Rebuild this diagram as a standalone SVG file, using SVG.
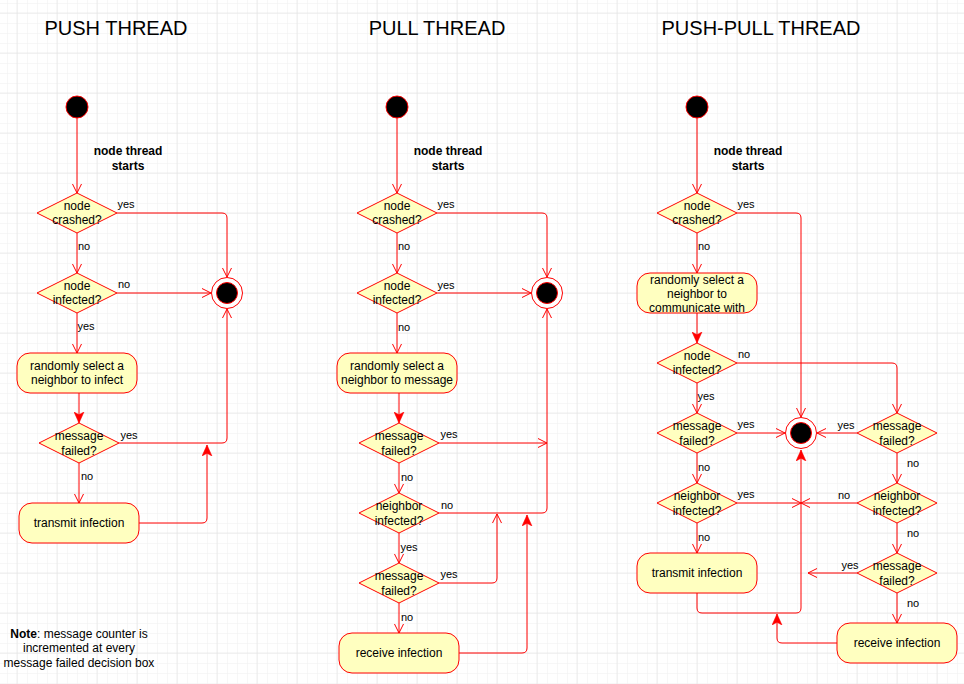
<svg xmlns="http://www.w3.org/2000/svg" width="964" height="684" viewBox="0 0 964 684">
<defs>
<pattern id="minor" x="17" y="13" width="10" height="10" patternUnits="userSpaceOnUse"><path d="M0,0 H10 M0,0 V10" fill="none" stroke="#f0f0f0" stroke-width="1"/></pattern>
<pattern id="major" x="16.5" y="12.5" width="40" height="40" patternUnits="userSpaceOnUse"><path d="M0,0 H40 M0,0 V40" fill="none" stroke="#e0e0e0" stroke-width="1"/></pattern>
<marker id="open" viewBox="0 0 10 10" refX="10" refY="5" markerWidth="10" markerHeight="10" markerUnits="userSpaceOnUse" orient="auto"><path d="M1,0.5 L10,5 L1,9.5" fill="none" stroke="#ff0000" stroke-width="1"/></marker>
<marker id="block" viewBox="0 0 10 10" refX="10" refY="5" markerWidth="11" markerHeight="11" markerUnits="userSpaceOnUse" orient="auto"><path d="M0,0.5 L10,5 L0,9.5 L2.5,5 z" fill="#ff0000" stroke="#ff0000" stroke-width="0.5"/></marker>
</defs>
<style>
.t{font-family:"Liberation Sans",Arial,Helvetica,sans-serif;font-size:12px;fill:#000;text-anchor:middle}
.b{font-weight:bold}
.l{font-family:"Liberation Sans",Arial,Helvetica,sans-serif;font-size:11px;fill:#000;text-anchor:middle}
.title{font-family:"Liberation Sans",Arial,Helvetica,sans-serif;font-size:20px;fill:#000;text-anchor:middle}
.d{fill:#ffffc0;stroke:#ff0000;stroke-width:1}
.box{fill:#ffffc0;stroke:#ff0000;stroke-width:1}
.start{fill:#000;stroke:#ff0000;stroke-width:1}
.endo{fill:#fff;stroke:#ff0000;stroke-width:1}
.c path{fill:none;stroke:#ff0000;stroke-width:1}
.o{marker-end:url(#open)}
.f{marker-end:url(#block)}
</style>
<rect width="964" height="684" fill="#ffffff"/>
<rect width="964" height="684" fill="url(#minor)"/>
<rect width="964" height="684" fill="url(#major)"/>

<text class="title" x="116" y="35">PUSH THREAD</text>
<text class="title" x="437" y="35">PULL THREAD</text>
<text class="title" x="761" y="35">PUSH-PULL THREAD</text>

<g id="connectors" class="c">
<!-- push -->
<path class="o" d="M77,118 V193"/>
<path class="o" d="M117,213 H222 Q227,213 227,218 V277"/>
<path class="o" d="M77,233 V273"/>
<path class="o" d="M117,293 H211"/>
<path class="o" d="M77,313 V353"/>
<path class="f" d="M79,393 V423"/>
<path class="o" d="M119,443 H222 Q227,443 227,438 V309"/>
<path class="o" d="M79,463 V503"/>
<path class="f" d="M139,523 H202 Q207,523 207,518 V445"/>
<!-- pull -->
<path class="o" d="M397,118 V193"/>
<path class="o" d="M437,213 H542 Q547,213 547,218 V277"/>
<path class="o" d="M397,233 V273"/>
<path class="o" d="M437,293 H531"/>
<path class="o" d="M397,313 V353"/>
<path class="f" d="M399,393 V423"/>
<path class="o" d="M439,443 H547"/>
<path class="o" d="M399,463 V493"/>
<path class="o" d="M439,513 H542 Q547,513 547,508 V309"/>
<path class="o" d="M399,533 V563"/>
<path class="o" d="M439,583 H492 Q497,583 497,578 V514"/>
<path class="o" d="M399,603 V633"/>
<path class="f" d="M459,653 H522 Q527,653 527,648 V515"/>
<!-- push-pull -->
<path class="o" d="M697,118 V193"/>
<path class="o" d="M737,213 H796 Q801,213 801,218 V417"/>
<path class="o" d="M697,233 V273"/>
<path class="f" d="M697,313 V343"/>
<path class="o" d="M737,363 H892 Q897,363 897,368 V413"/>
<path class="o" d="M697,383 V413"/>
<path class="o" d="M737,433 H785"/>
<path class="o" d="M697,453 V483"/>
<path class="o" d="M737,503 H801"/>
<path class="o" d="M697,523 V553"/>
<path class="f" d="M697,593 V608 Q697,613 702,613 H796 Q801,613 801,608 V450"/>
<path class="o" d="M857,433 H817"/>
<path class="o" d="M897,453 V483"/>
<path class="o" d="M857,503 H801"/>
<path class="o" d="M897,523 V553"/>
<path class="o" d="M857,573 H808"/>
<path class="o" d="M897,593 V623"/>
<path class="f" d="M837,643 H782 Q777,643 777,638 V614"/>
</g>

<g id="labels">
<text class="t b" x="128" y="155">node thread</text><text class="t b" x="128" y="170">starts</text>
<text class="t b" x="448" y="155">node thread</text><text class="t b" x="448" y="170">starts</text>
<text class="t b" x="748" y="155">node thread</text><text class="t b" x="748" y="170">starts</text>
<text class="l" x="126" y="208">yes</text><text class="l" x="84" y="250">no</text><text class="l" x="124" y="288">no</text><text class="l" x="86" y="330">yes</text><text class="l" x="129" y="439">yes</text><text class="l" x="87" y="480">no</text>
<text class="l" x="446" y="208">yes</text><text class="l" x="404" y="250">no</text><text class="l" x="446" y="289">yes</text><text class="l" x="404" y="331">no</text><text class="l" x="449" y="438">yes</text><text class="l" x="407" y="481">no</text><text class="l" x="447" y="509">no</text><text class="l" x="409" y="551">yes</text><text class="l" x="449" y="578">yes</text><text class="l" x="407" y="621">no</text>
<text class="l" x="746" y="208">yes</text><text class="l" x="704" y="250">no</text><text class="l" x="744" y="358">no</text><text class="l" x="706" y="400">yes</text><text class="l" x="746" y="428">yes</text><text class="l" x="704" y="471">no</text><text class="l" x="746" y="498">yes</text><text class="l" x="704" y="541">no</text>
<text class="l" x="846" y="429">yes</text><text class="l" x="913" y="467">no</text><text class="l" x="844" y="499">no</text><text class="l" x="913" y="537">no</text><text class="l" x="850" y="569">yes</text><text class="l" x="913" y="607">no</text>
<text class="t" x="79" y="638"><tspan font-weight="bold">Note</tspan>: message counter is</text>
<text class="t" x="79" y="652">incremented at every</text>
<text class="t" x="79" y="667">message failed decision box</text>
</g>

<!-- PUSH nodes -->
<g id="push-start"><circle class="start" cx="77" cy="107" r="11"/></g>
<g id="push-crashed"><polygon class="d" points="37,213 77,193 117,213 77,233"/><text class="t" x="77" y="210">node</text><text class="t" x="77" y="224">crashed?</text></g>
<g id="push-infected"><polygon class="d" points="37,293 77,273 117,293 77,313"/><text class="t" x="77" y="290">node</text><text class="t" x="77" y="304">infected?</text></g>
<g id="push-end"><circle class="endo" cx="227" cy="293" r="15.5"/><circle class="start" cx="227" cy="293" r="10.5"/></g>
<g id="push-select"><rect class="box" x="17" y="353" width="120" height="40" rx="13"/><text class="t" x="77" y="370">randomly select a</text><text class="t" x="77" y="384">neighbor to infect</text></g>
<g id="push-failed"><polygon class="d" points="39,443 79,423 119,443 79,463"/><text class="t" x="79" y="440">message</text><text class="t" x="79" y="455">failed?</text></g>
<g id="push-transmit"><rect class="box" x="19" y="503" width="120" height="40" rx="13"/><text class="t" x="79" y="527">transmit infection</text></g>

<!-- PULL nodes -->
<g id="pull-start"><circle class="start" cx="397" cy="107" r="11"/></g>
<g id="pull-crashed"><polygon class="d" points="357,213 397,193 437,213 397,233"/><text class="t" x="397" y="210">node</text><text class="t" x="397" y="224">crashed?</text></g>
<g id="pull-infected"><polygon class="d" points="357,293 397,273 437,293 397,313"/><text class="t" x="397" y="290">node</text><text class="t" x="397" y="304">infected?</text></g>
<g id="pull-end"><circle class="endo" cx="547" cy="293" r="15.5"/><circle class="start" cx="547" cy="293" r="10.5"/></g>
<g id="pull-select"><rect class="box" x="337" y="353" width="120" height="40" rx="13"/><text class="t" x="397" y="370">randomly select a</text><text class="t" x="397" y="384">neighbor to message</text></g>
<g id="pull-failed1"><polygon class="d" points="359,443 399,423 439,443 399,463"/><text class="t" x="399" y="440">message</text><text class="t" x="399" y="455">failed?</text></g>
<g id="pull-neighbor"><polygon class="d" points="359,513 399,493 439,513 399,533"/><text class="t" x="399" y="510">neighbor</text><text class="t" x="399" y="525">infected?</text></g>
<g id="pull-failed2"><polygon class="d" points="359,583 399,563 439,583 399,603"/><text class="t" x="399" y="580">message</text><text class="t" x="399" y="595">failed?</text></g>
<g id="pull-receive"><rect class="box" x="339" y="633" width="120" height="40" rx="13"/><text class="t" x="399" y="657">receive infection</text></g>

<!-- PUSH-PULL nodes -->
<g id="pp-start"><circle class="start" cx="697" cy="107" r="11"/></g>
<g id="pp-crashed"><polygon class="d" points="657,213 697,193 737,213 697,233"/><text class="t" x="697" y="210">node</text><text class="t" x="697" y="224">crashed?</text></g>
<g id="pp-select"><rect class="box" x="637" y="273" width="120" height="40" rx="13"/><text class="t" x="697" y="283.5">randomly select a</text><text class="t" x="697" y="297.5">neighbor to</text><text class="t" x="697" y="312">communicate with</text></g>
<g id="pp-infected"><polygon class="d" points="657,363 697,343 737,363 697,383"/><text class="t" x="697" y="360">node</text><text class="t" x="697" y="374">infected?</text></g>
<g id="pp-failed-l"><polygon class="d" points="657,433 697,413 737,433 697,453"/><text class="t" x="697" y="430">message</text><text class="t" x="697" y="445">failed?</text></g>
<g id="pp-neighbor-l"><polygon class="d" points="657,503 697,483 737,503 697,523"/><text class="t" x="697" y="500">neighbor</text><text class="t" x="697" y="515">infected?</text></g>
<g id="pp-transmit"><rect class="box" x="637" y="553" width="120" height="40" rx="13"/><text class="t" x="697" y="577">transmit infection</text></g>
<g id="pp-end"><circle class="endo" cx="801" cy="433" r="15.5"/><circle class="start" cx="801" cy="433" r="10.5"/></g>
<g id="pp-failed-r1"><polygon class="d" points="857,433 897,413 937,433 897,453"/><text class="t" x="897" y="430">message</text><text class="t" x="897" y="445">failed?</text></g>
<g id="pp-neighbor-r"><polygon class="d" points="857,503 897,483 937,503 897,523"/><text class="t" x="897" y="500">neighbor</text><text class="t" x="897" y="515">infected?</text></g>
<g id="pp-failed-r2"><polygon class="d" points="857,573 897,553 937,573 897,593"/><text class="t" x="897" y="570">message</text><text class="t" x="897" y="585">failed?</text></g>
<g id="pp-receive"><rect class="box" x="837" y="623" width="120" height="40" rx="13"/><text class="t" x="897" y="647">receive infection</text></g>
</svg>
